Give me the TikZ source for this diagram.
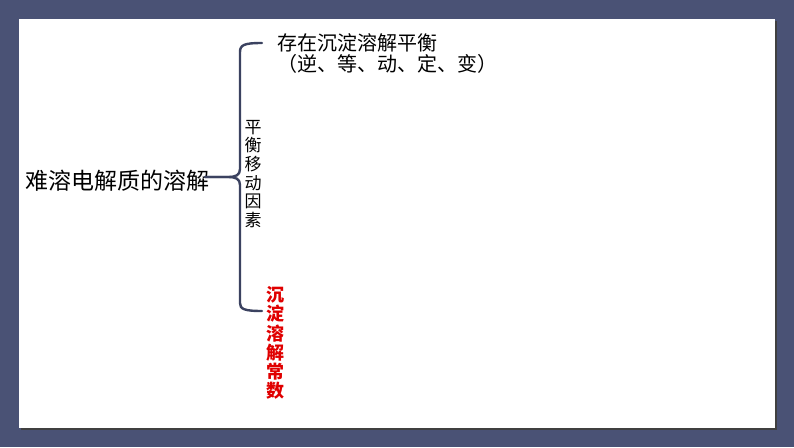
\documentclass[tikz,border=0pt]{standalone}
\usepackage{fontspec}
\newfontfamily\cjk{Noto Sans CJK SC}
\usetikzlibrary{positioning}
\definecolor{framebg}{HTML}{4A5275}
\definecolor{braceline}{HTML}{3B4260}
\definecolor{constred}{HTML}{E00000}

\begin{document}
\begin{tikzpicture}[x=1pt,y=-1pt,
    text node/.style={inner sep=0pt,anchor=west,align=left},
    column node/.style={inner sep=0pt,align=center},
    brace node/.style={draw=braceline,line width=2.4pt,line cap=round}]
    \fill[framebg] (0,0) rectangle (794,447);
    \fill[black!75] (21,21) rectangle (777,430);
    \fill[white] (19,19) rectangle (775,428);

    \node[text node,font=\cjk\fontsize{23}{23}\selectfont] (root) at (25,181) {难溶电解质的溶解};
    \node[text node,font=\cjk\fontsize{20}{21}\selectfont] (balance) at (277,53) {存在沉淀溶解平衡\\（逆、等、动、定、变）};
    \node[column node,font=\cjk\fontsize{17}{18.7}\selectfont] (factor) at (253,174) {平\\衡\\移\\动\\因\\素};
    \node[column node,text=constred,font=\cjk\bfseries\fontsize{18}{19.2}\selectfont] (const) at (275,343) {沉\\淀\\溶\\解\\常\\数};

    \coordinate (tip) at (205,177);
    \coordinate (upper) at (262,43);
    \coordinate (lower) at (262,311);

    \draw[brace node] (upper) .. controls (244,43) and (240,45) .. (240,52)
        -- (240,169) .. controls (240,175) and (236,177) .. (228,177) -- (tip);
    \draw[brace node] (tip) -- (228,177) .. controls (236,177) and (240,179) .. (240,185)
        -- (240,303) .. controls (240,309) and (244,311) .. (lower);
\end{tikzpicture}
\end{document}
